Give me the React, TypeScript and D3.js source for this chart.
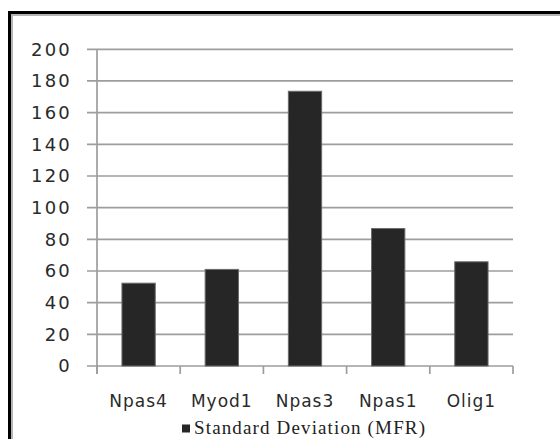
import React from "react";
import * as d3 from "d3";

const categories = ["Npas4", "Myod1", "Npas3", "Npas1", "Olig1"];
const values = [52.3, 61, 173.5, 86.8, 65.8];
const yTicks = [0, 20, 40, 60, 80, 100, 120, 140, 160, 180, 200];
const legendLabel = "Standard Deviation (MFR)";

export default function App() {
  const W = 560, H = 439;
  const left = 97, right = 513, top = 49.3, bottom = 366;
  const x = d3.scaleBand<string>().domain(categories).range([left, right]).paddingInner(0.6).paddingOuter(0.3);
  const y = d3.scaleLinear().domain([0, 200]).range([bottom, top]);
  const step = x.step();
  const tickXs = d3.range(categories.length + 1).map((i) => left + i * step);
  const grid = "#9d9d9d";
  return (
    <svg width={W} height={H} style={{ position: "absolute", left: 0, top: 0, background: "#fff" }}>
      <rect x={0} y={0} width={W} height={H} fill="#fff" />
      {/* frame */}
      <line x1={8} x2={W} y1={12.5} y2={12.5} stroke="#000" strokeWidth={3} />
      <line x1={9.5} x2={9.5} y1={11} y2={H} stroke="#000" strokeWidth={3} />
      <line x1={11} x2={W} y1={15} y2={15} stroke="#b5b5b5" strokeWidth={2} />
      <line x1={12} x2={12} y1={14} y2={H} stroke="#b5b5b5" strokeWidth={2} />
      {/* gridlines */}
      {yTicks.map((t) => (
        <line key={t} x1={87} x2={right} y1={y(t)} y2={y(t)} stroke={grid} strokeWidth={1.7} />
      ))}
      {/* y axis */}
      <line x1={left} x2={left} y1={top} y2={bottom + 8} stroke={grid} strokeWidth={1.7} />
      {tickXs.map((tx, i) => (
        <line key={i} x1={tx} x2={tx} y1={bottom} y2={bottom + 8} stroke={grid} strokeWidth={1.7} />
      ))}
      {yTicks.map((t) => (
        <text key={t} x={72} y={y(t)} dy="0.36em" textAnchor="end" fontFamily="DejaVu Sans" fontSize={18} letterSpacing={2.2} fill="#2a2a2a">
          {t}
        </text>
      ))}
      {/* bars */}
      {categories.map((c, i) => (
        <rect key={c} x={x(c)!} y={y(values[i])} width={x.bandwidth()} height={bottom - y(values[i])} fill="#262626" stroke="#6a6a6a" strokeWidth={1} />
      ))}
      {categories.map((c) => (
        <text key={c} x={x(c)! + x.bandwidth() / 2} y={407} textAnchor="middle" fontFamily="DejaVu Sans" fontSize={17} letterSpacing={1} fill="#2a2a2a">
          {c}
        </text>
      ))}
      {/* legend */}
      <rect x={182} y={424.5} width={8} height={8} fill="#262626" />
      <text x={194} y={434} fontFamily="Liberation Serif" fontSize={19} textLength={231} lengthAdjust="spacing" fill="#222">
        {legendLabel}
      </text>
    </svg>
  );
}
